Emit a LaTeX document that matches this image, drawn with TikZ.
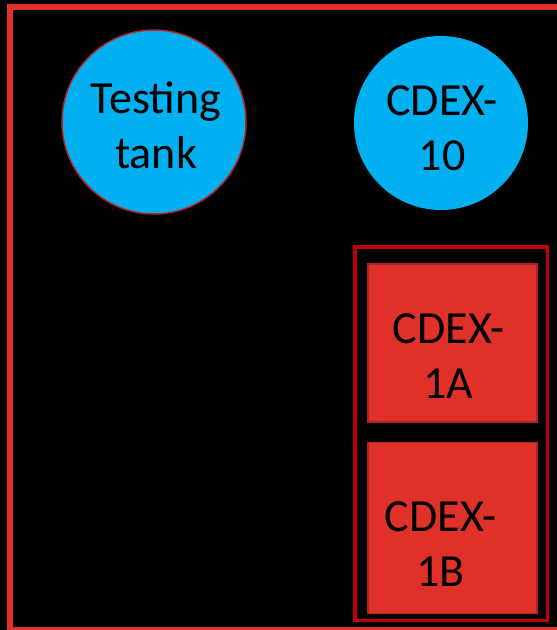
\documentclass[tikz,border=0pt]{standalone}
\usepackage{fontspec}
\setmainfont{Carlito}
\usepackage{tikz}
\usetikzlibrary{positioning}
\definecolor{tankblue}{RGB}{0,176,240}
\definecolor{detred}{RGB}{224,48,42}
\definecolor{rimred}{RGB}{178,34,34}
\definecolor{boxred}{RGB}{192,0,0}

\begin{document}
\begin{tikzpicture}[x=1pt,y=-1pt,font=\fontsize{46}{55}\selectfont,
    every label/.style={align=center,text=black},
    tankcirc/.style={circle,fill=tankblue,inner sep=0pt},
    detbox/.style={rectangle,fill=detred,draw=rimred,line width=1.5pt,inner sep=0pt,minimum width=169pt}]
    \fill[black] (0,0) rectangle (557,630);
    \useasboundingbox (0,0) rectangle (557,630);
    % outer frame, cut off at the right and bottom
    \draw[detred,line width=6pt] (9.5,7) rectangle (580,629.5);
    \node[tankcirc,draw=rimred,line width=1.5pt,minimum size=184pt,
      label={[xshift=2pt,yshift=-3pt]center:Testing\\tank}] (tank) at (154,122) {};
    \node[tankcirc,minimum size=174pt,
      label={[xshift=1pt,yshift=-5pt]center:CDEX-\\10}] (cdx10) at (441,123) {};
    % CDEX-1 boxes inside their own frame
    \node[detbox,minimum height=158pt,
      label={[xshift=-4pt,yshift=-13pt]center:CDEX-\\1A}] (cdx1a) at (452.5,343) {};
    \node[detbox,minimum height=171pt,below=19pt of cdx1a,
      label={[xshift=-12pt,yshift=-16pt]center:CDEX-\\1B}] (cdx1b) {};
    \draw[boxred,line width=3.5pt] (355,247) rectangle (547.5,620.5);
\end{tikzpicture}
\end{document}
